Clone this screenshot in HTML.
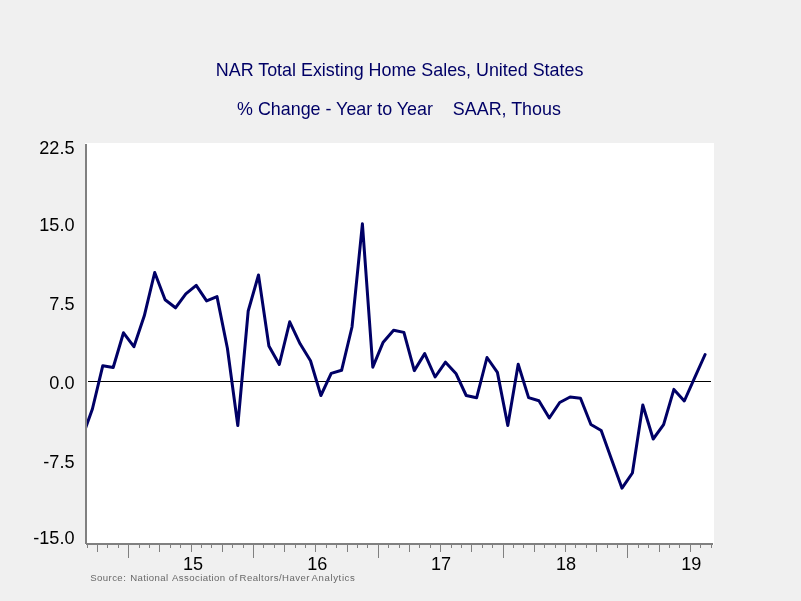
<!DOCTYPE html>
<html><head><meta charset="utf-8"><title>NAR Total Existing Home Sales, United States</title>
<style>
html,body{margin:0;padding:0;background:#f0f0f0;}
svg{display:block;}
text{font-family:"Liberation Sans",Arial,sans-serif;}
.t{font-size:17.9px;fill:#000066;}
.a{font-size:18.1px;fill:#000000;}
.s{font-size:9.6px;fill:#686868;}
</style></head>
<body>
<svg width="801" height="601" viewBox="0 0 801 601">
<rect x="0" y="0" width="801" height="601" fill="#f0f0f0"/>
<rect x="85" y="143" width="629" height="402" fill="#ffffff"/>
<g class="t">
<text x="215.8" y="75.6">NAR Total Existing Home Sales, United States</text>
<text x="237" y="115.3" xml:space="preserve">% Change - Year to Year    SAAR, Thous</text>
</g>
<g class="a">
<text x="74.5" y="154.4" text-anchor="end">22.5</text>
<text x="74.5" y="231.2" text-anchor="end">15.0</text>
<text x="74.5" y="310.3" text-anchor="end">7.5</text>
<text x="74.5" y="388.6" text-anchor="end">0.0</text>
<text x="74.5" y="467.5" text-anchor="end">-7.5</text>
<text x="74.5" y="543.6" text-anchor="end">-15.0</text>
<text x="193" y="570.3" text-anchor="middle">15</text>
<text x="317.2" y="570.3" text-anchor="middle">16</text>
<text x="441" y="570.3" text-anchor="middle">17</text>
<text x="566" y="570.3" text-anchor="middle">18</text>
<text x="691.2" y="570.3" text-anchor="middle">19</text>
</g>
<g class="s">
<text x="90.2" y="581" textLength="35.6" lengthAdjust="spacing">Source:</text>
<text x="130.2" y="581" textLength="38.0" lengthAdjust="spacing">National</text>
<text x="172.0" y="581" textLength="53.2" lengthAdjust="spacing">Association</text>
<text x="228.8" y="581" textLength="8.6" lengthAdjust="spacing">of</text>
<text x="239.5" y="581" textLength="70.0" lengthAdjust="spacing">Realtors/Haver</text>
<text x="311.6" y="581" textLength="43.2" lengthAdjust="spacing">Analytics</text>
</g>
<rect x="88" y="381" width="623" height="1" fill="#000000"/>
<clipPath id="c"><rect x="87" y="143" width="627" height="400"/></clipPath>
<polyline clip-path="url(#c)" points="82.0,438 92.4,409 102.8,365.7 113.2,367.5 123.5,332.8 133.9,346.7 144.3,315.8 154.7,272.5 165.1,299.8 175.5,307.8 185.8,293.8 196.2,285.3 206.6,300.9 217.0,296.6 227.4,348.2 237.8,425.5 248.2,311 258.5,275 268.9,346 279.3,364.5 289.7,321.8 300.1,343.8 310.5,360.7 320.9,395.5 331.2,373.4 341.6,370.3 352.0,327 362.4,223.8 372.8,367.2 383.2,342.2 393.6,330.2 403.9,332.4 414.3,370.6 424.7,353.6 435.1,377 445.5,362.2 455.9,373.4 466.2,395.5 476.6,397.8 487.0,357.5 497.4,372.4 507.8,425.5 518.2,364.3 528.6,397.6 538.9,400.7 549.3,418 559.7,402.5 570.1,397 580.5,398.2 590.9,424.5 601.2,430.5 611.6,459.5 622.0,488.2 632.4,473 642.8,405 653.2,439 663.6,424.6 673.9,389.4 684.3,401 694.7,377.7 705.1,354.5" fill="none" stroke="#000066" stroke-width="3" stroke-linejoin="round" stroke-linecap="round"/>
<g fill="#808080">
<rect x="85" y="144" width="2" height="400"/>
<rect x="86" y="543" width="627" height="2"/>
<rect x="87" y="545" width="1" height="3"/>
<rect x="97" y="545" width="1" height="7"/>
<rect x="107" y="545" width="1" height="3"/>
<rect x="118" y="545" width="1" height="3"/>
<rect x="128" y="545" width="1" height="13"/>
<rect x="139" y="545" width="1" height="3"/>
<rect x="149" y="545" width="1" height="3"/>
<rect x="159" y="545" width="1" height="7"/>
<rect x="170" y="545" width="1" height="3"/>
<rect x="180" y="545" width="1" height="3"/>
<rect x="191" y="545" width="1" height="7"/>
<rect x="201" y="545" width="1" height="3"/>
<rect x="211" y="545" width="1" height="3"/>
<rect x="222" y="545" width="1" height="7"/>
<rect x="232" y="545" width="1" height="3"/>
<rect x="243" y="545" width="1" height="3"/>
<rect x="253" y="545" width="1" height="13"/>
<rect x="263" y="545" width="1" height="3"/>
<rect x="274" y="545" width="1" height="3"/>
<rect x="284" y="545" width="1" height="7"/>
<rect x="295" y="545" width="1" height="3"/>
<rect x="305" y="545" width="1" height="3"/>
<rect x="315" y="545" width="1" height="7"/>
<rect x="326" y="545" width="1" height="3"/>
<rect x="336" y="545" width="1" height="3"/>
<rect x="347" y="545" width="1" height="7"/>
<rect x="357" y="545" width="1" height="3"/>
<rect x="367" y="545" width="1" height="3"/>
<rect x="378" y="545" width="1" height="13"/>
<rect x="388" y="545" width="1" height="3"/>
<rect x="399" y="545" width="1" height="3"/>
<rect x="409" y="545" width="1" height="7"/>
<rect x="419" y="545" width="1" height="3"/>
<rect x="430" y="545" width="1" height="3"/>
<rect x="440" y="545" width="1" height="7"/>
<rect x="451" y="545" width="1" height="3"/>
<rect x="461" y="545" width="1" height="3"/>
<rect x="471" y="545" width="1" height="7"/>
<rect x="482" y="545" width="1" height="3"/>
<rect x="492" y="545" width="1" height="3"/>
<rect x="503" y="545" width="1" height="13"/>
<rect x="513" y="545" width="1" height="3"/>
<rect x="523" y="545" width="1" height="3"/>
<rect x="534" y="545" width="1" height="7"/>
<rect x="544" y="545" width="1" height="3"/>
<rect x="555" y="545" width="1" height="3"/>
<rect x="565" y="545" width="1" height="7"/>
<rect x="575" y="545" width="1" height="3"/>
<rect x="586" y="545" width="1" height="3"/>
<rect x="596" y="545" width="1" height="7"/>
<rect x="607" y="545" width="1" height="3"/>
<rect x="617" y="545" width="1" height="3"/>
<rect x="627" y="545" width="1" height="13"/>
<rect x="638" y="545" width="1" height="3"/>
<rect x="648" y="545" width="1" height="3"/>
<rect x="659" y="545" width="1" height="7"/>
<rect x="669" y="545" width="1" height="3"/>
<rect x="679" y="545" width="1" height="3"/>
<rect x="690" y="545" width="1" height="7"/>
<rect x="700" y="545" width="1" height="3"/>
<rect x="711" y="545" width="1" height="3"/>
</g>
</svg>
</body></html>
